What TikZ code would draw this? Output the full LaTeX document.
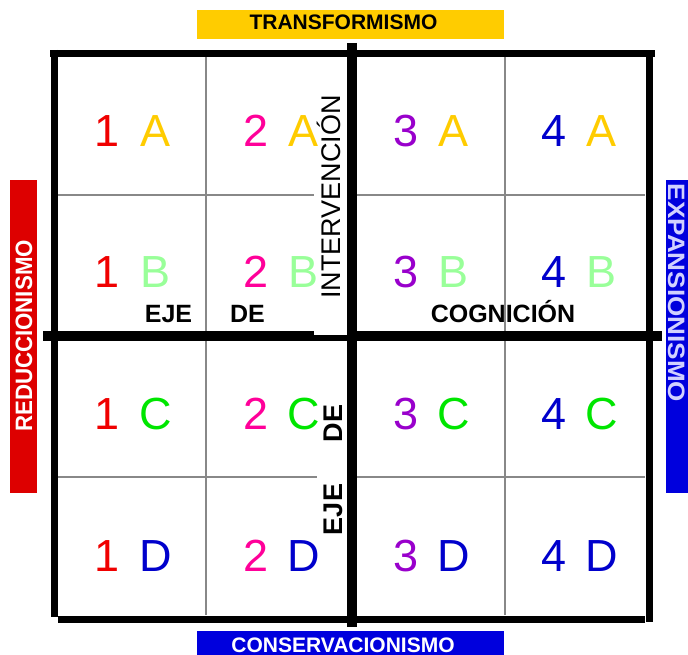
\documentclass[tikz,border=0pt]{standalone}
\usepackage{fontspec}
\setmainfont{Liberation Sans}
\definecolor{cOne}{RGB}{240,0,0}
\definecolor{cTwo}{RGB}{255,0,153}
\definecolor{cThree}{RGB}{153,0,204}
\definecolor{cFour}{RGB}{0,0,204}
\definecolor{cA}{RGB}{255,204,0}
\definecolor{cB}{RGB}{153,255,153}
\definecolor{cC}{RGB}{0,230,0}
\definecolor{cD}{RGB}{0,0,204}
\definecolor{bRed}{RGB}{221,0,0}
\definecolor{bBlue}{RGB}{0,0,221}
\definecolor{bYellow}{RGB}{255,204,0}
\definecolor{gridgray}{RGB}{136,136,136}
\begin{document}
\begin{tikzpicture}[x=1pt,y=-1pt,
  outerline/.style={line width=7pt,black},
  centerline/.style={line width=10.5pt,black},
  gridline/.style={line width=2pt,gridgray},
  cell/.style={font=\fontsize{45}{45}\selectfont,anchor=base,inner sep=0pt},
  axislab/.style={font=\fontsize{25}{25}\selectfont\bfseries,anchor=base,inner sep=0pt,black},
  banner/.style={inner sep=0pt,anchor=base}]
\useasboundingbox (0,0) rectangle (688,655);
\fill[white] (0,0) rectangle (688,655);
% banners
\fill[bYellow] (197,10) rectangle (504,39);
\fill[bBlue] (197,631) rectangle (504,660);
\fill[bRed] (10,180) rectangle (37,493);
\fill[bBlue] (666,180) rectangle (692,493);
\node[banner,font=\fontsize{21}{21}\selectfont\bfseries] (trans) at (343.5,30) {TRANSFORMISMO};
\node[banner,font=\fontsize{21}{21}\selectfont\bfseries,white] (cons) at (343,652) {CONSERVACIONISMO};
\node[banner,font=\fontsize{23.7}{23.7}\selectfont\bfseries,white,rotate=90] (redu) at (32,336) {\scalebox{0.94}[1]{REDUCCIONISMO}};
\node[banner,font=\fontsize{23.7}{23.7}\selectfont\bfseries,white!82!blue,rotate=-90] (expa) at (668,293) {\scalebox{1.1}[1]{EXPANSIONISMO}};
% grid coordinates
\coordinate (g1t) at (206,57); \coordinate (g1b) at (206,615);
\coordinate (g2t) at (505,57); \coordinate (g2b) at (505,615);
\coordinate (h1l) at (58,195.5); \coordinate (h1r) at (645,195.5);
\coordinate (h2l) at (58,477); \coordinate (h2r) at (645,477);
\draw[gridline] (g1t) -- (g1b);
\draw[gridline] (g2t) -- (g2b);
\draw[gridline] (h1l) -- (h1r);
\draw[gridline] (h2l) -- (h2r);
% outer frame
\coordinate (tl) at (50,53.5); \coordinate (tr) at (655,53.5);
\coordinate (lt) at (54.5,50); \coordinate (lb) at (54.5,617);
\coordinate (rt) at (649,52); \coordinate (rb) at (649,622);
\coordinate (bl) at (58,619); \coordinate (br) at (645,619);
\draw[outerline] (tl) -- (tr);
\draw[outerline] (lt) -- (lb);
\draw[outerline] (rt) -- (rb);
\draw[outerline] (bl) -- (br);
% central axes
\coordinate (vt) at (352,43); \coordinate (vb) at (352,627);
\coordinate (hl) at (43,336); \coordinate (hr) at (662,336);
\draw[centerline] (vt) -- (vb);
\draw[centerline] (hl) -- (hr);
% white label boxes
\fill[white] (314,57) rectangle (347,335);
\fill[white] (317,341) rectangle (347,613);
% axis labels
\node[inner sep=0pt,anchor=base,rotate=90,font=\fontsize{27}{27}\selectfont,black] (interv) at (340,197) {INTERVENCIÓN};
\node[inner sep=0pt,anchor=base,rotate=90,font=\fontsize{27}{27}\selectfont\bfseries,black] (deV) at (342,423.5) {DE};
\node[inner sep=0pt,anchor=base,rotate=90,font=\fontsize{27}{27}\selectfont\bfseries,black] (ejeV) at (342,509.5) {EJE};
\node[axislab] (ejeH) at (168.5,322) {EJE};
\node[axislab] (deH) at (247.5,322) {DE};
\node[axislab] (cogn) at (503,322) {COGNICIÓN};
% cells
\foreach \r/\L/\lc/\yb in {1/A/cA/147,2/B/cB/287,3/C/cC/429.5,4/D/cD/571}{
  \node[cell,cOne]   (n1\L) at (107.5,\yb) {1};
  \node[cell,cTwo]   (n2\L) at (256.5,\yb) {2};
  \node[cell,cThree] (n3\L) at (406.5,\yb) {3};
  \node[cell,cFour]  (n4\L) at (554,\yb) {4};
  \node[cell,\lc] (l1\L) at (155.5,\yb) {\L};
  \node[cell,\lc] (l2\L) at (304,\yb) {\L};
  \node[cell,\lc] (l3\L) at (454,\yb) {\L};
  \node[cell,\lc] (l4\L) at (602,\yb) {\L};
}
\end{tikzpicture}
\end{document}
